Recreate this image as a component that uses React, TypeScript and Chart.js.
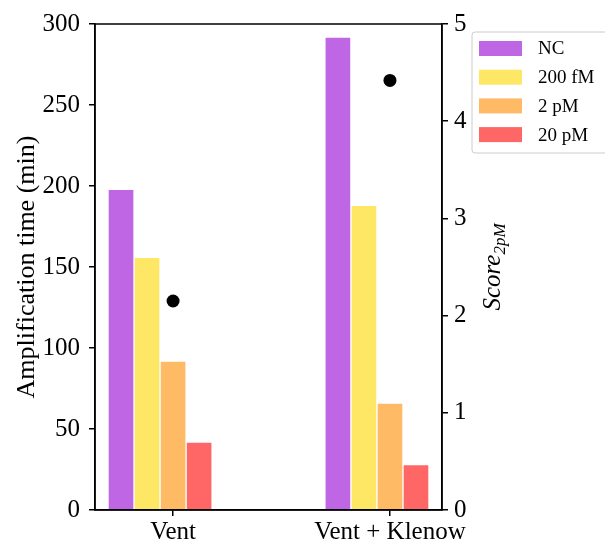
import React, { useEffect, useRef } from "react";
import { Chart, registerables } from "chart.js";

Chart.register(...registerables);

const categories = ["Vent", "Vent + Klenow"];
const seriesNames = ["NC", "200 fM", "2 pM", "20 pM"];
const ncValues = [198, 292];
const fM200Values = [156, 188];
const pM2Values = [92, 66];
const pM20Values = [42, 28];
const scoreValues = [2.15, 4.42];
const barOffsets = [-0.24, -0.12, 0, 0.12];
const seriesColors = [
  "rgba(148,0,211,0.6)",
  "rgba(255,215,0,0.6)",
  "rgba(255,140,0,0.6)",
  "rgba(255,0,0,0.6)",
];

const FONT = "'Liberation Serif', 'DejaVu Serif', serif";

export default function App() {
  const ref = useRef<HTMLCanvasElement | null>(null);

  useEffect(() => {
    document.body.style.margin = "0";
    const canvas = ref.current;
    if (!canvas) return;
    const allSeries = [ncValues, fM200Values, pM2Values, pM20Values];

    const barSets = allSeries.map((vals, si) => ({
      type: "bar" as const,
      label: seriesNames[si],
      data: vals.map((v, ci) => ({ x: ci + barOffsets[si], y: v })),
      backgroundColor: seriesColors[si],
      borderColor: "#ffffff",
      borderWidth: 1,
      borderSkipped: "bottom" as const,
      barThickness: 26,
      grouped: false,
      xAxisID: "x",
      yAxisID: "y",
      order: 2,
    }));

    const scatterSet = {
      type: "scatter" as const,
      label: "Score",
      data: scoreValues.map((v, ci) => ({ x: ci, y: v })),
      backgroundColor: "#000000",
      borderColor: "#000000",
      pointRadius: 6.5,
      pointBorderWidth: 0,
      showLine: false,
      xAxisID: "x",
      yAxisID: "y1",
      order: 1,
    };

    const decor = {
      id: "decor",
      afterDraw(chart: any) {
        const ctx = chart.ctx as CanvasRenderingContext2D;
        const a = chart.chartArea;
        ctx.save();
        ctx.strokeStyle = "#000";
        ctx.lineWidth = 1.5;
        ctx.strokeRect(a.left, a.top, a.right - a.left, a.bottom - a.top);
        const midY = (a.top + a.bottom) / 2;
        ctx.fillStyle = "#000";
        ctx.save();
        ctx.translate(27, midY);
        ctx.rotate(-Math.PI / 2);
        ctx.font = `26px ${FONT}`;
        ctx.textAlign = "center";
        ctx.textBaseline = "middle";
        ctx.fillText("Amplification time (min)", 0, 0);
        ctx.restore();
        ctx.save();
        ctx.translate(500, midY);
        ctx.rotate(-Math.PI / 2);
        ctx.textBaseline = "alphabetic";
        ctx.font = `italic 25px ${FONT}`;
        const main = "Score";
        const sub = "2pM";
        const wMain = ctx.measureText(main).width;
        ctx.font = `italic 17px ${FONT}`;
        const wSub = ctx.measureText(sub).width;
        const total = wMain + wSub;
        const x0 = -total / 2;
        ctx.font = `italic 25px ${FONT}`;
        ctx.textAlign = "left";
        ctx.fillText(main, x0, 0);
        ctx.font = `italic 17px ${FONT}`;
        ctx.fillText(sub, x0 + wMain, 5);
        ctx.restore();
        const lx = 472, ly = 32, lw = 145, lh = 121;
        ctx.fillStyle = "rgba(255,255,255,0.8)";
        ctx.strokeStyle = "#cccccc";
        ctx.lineWidth = 1;
        ctx.beginPath();
        const r = 3;
        ctx.moveTo(lx + r, ly);
        ctx.lineTo(lx + lw - r, ly);
        ctx.arcTo(lx + lw, ly, lx + lw, ly + r, r);
        ctx.lineTo(lx + lw, ly + lh - r);
        ctx.arcTo(lx + lw, ly + lh, lx + lw - r, ly + lh, r);
        ctx.lineTo(lx + r, ly + lh);
        ctx.arcTo(lx, ly + lh, lx, ly + lh - r, r);
        ctx.lineTo(lx, ly + r);
        ctx.arcTo(lx, ly, lx + r, ly, r);
        ctx.closePath();
        ctx.fill();
        ctx.stroke();
        ctx.font = `19px ${FONT}`;
        ctx.textAlign = "left";
        ctx.textBaseline = "middle";
        seriesNames.forEach((name, i) => {
          const cy = 48.5 + i * 28.7;
          ctx.fillStyle = seriesColors[i];
          ctx.fillRect(479, cy - 7.5, 43, 15);
          ctx.fillStyle = "#000";
          ctx.fillText(name, 538, cy + 1);
        });
        ctx.restore();
      },
    };

    const tickFont = { family: FONT, size: 25 };
    const gridOpts = {
      drawOnChartArea: false,
      drawTicks: true,
      tickLength: 6,
      color: "#000",
      lineWidth: 1.5,
      offset: false,
    };
    const chart = new Chart(canvas, {
      type: "bar",
      data: { datasets: [...barSets, scatterSet] as any },
      options: {
        animation: false,
        responsive: false,
        layout: { padding: { top: 22, left: 0, right: 0, bottom: 0 } },
        plugins: { legend: { display: false }, tooltip: { enabled: false } },
        scales: {
          x: {
            type: "linear",
            min: -0.36,
            max: 1.24,
            offset: false,
            afterBuildTicks: (s: any) => {
              s.ticks = categories.map((_, i) => ({ value: i }));
            },
            afterFit: (s: any) => {
              s.height = 34;
            },
            ticks: {
              autoSkip: false,
              maxRotation: 0,
              padding: 1,
              color: "#000",
              font: tickFont,
              callback: (v: any) => categories[Math.round(Number(v))] ?? "",
            },
            grid: gridOpts,
            border: { display: true, color: "#000", width: 1.5 },
          },
          y: {
            type: "linear",
            position: "left",
            min: 0,
            max: 300,
            afterFit: (s: any) => {
              s.width = 95;
            },
            ticks: { stepSize: 50, padding: 9, color: "#000", font: tickFont },
            grid: gridOpts,
            border: { display: true, color: "#000", width: 1.5 },
          },
          y1: {
            type: "linear",
            position: "right",
            min: 0,
            max: 5,
            afterFit: (s: any) => {
              s.width = 163;
            },
            ticks: { stepSize: 1, padding: 6, color: "#000", font: tickFont },
            grid: gridOpts,
            border: { display: true, color: "#000", width: 1.5 },
          },
        },
      } as any,
      plugins: [decor],
    });
    return () => chart.destroy();
  }, []);

  return (
    <div style={{ width: 605, height: 544 }}>
      <canvas ref={ref} width={605} height={544} style={{ display: "block" }} />
    </div>
  );
}
